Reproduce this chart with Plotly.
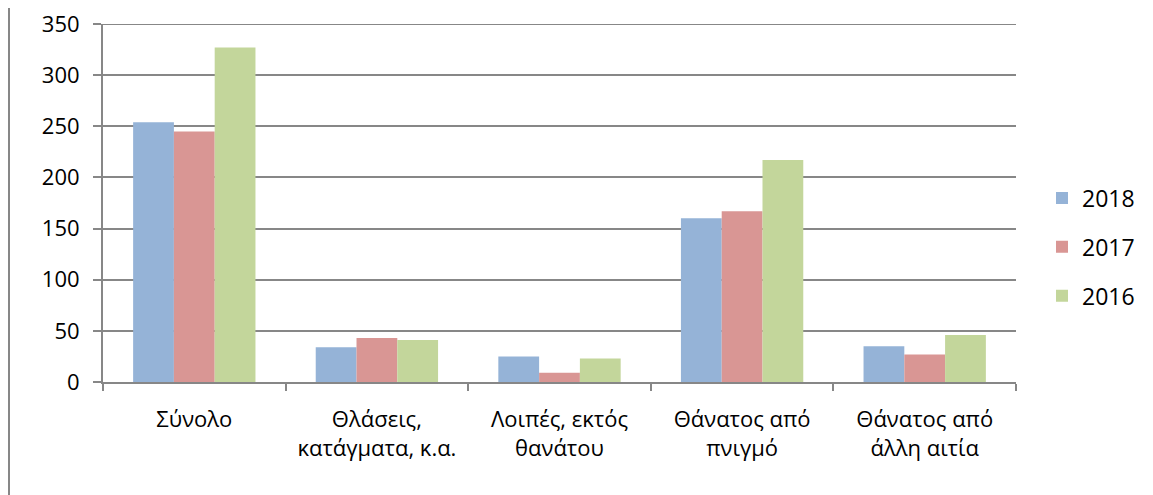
import plotly.graph_objects as go

categories = ["Σύνολο", "Θλάσεις,<br>κατάγματα, κ.α.", "Λοιπές, εκτός<br>θανάτου",
              "Θάνατος από<br>πνιγμό", "Θάνατος από<br>άλλη αιτία"]
series_names = ["2018", "2017", "2016"]
values_2018 = [254, 34, 25, 160, 35]
values_2017 = [245, 43, 9, 167, 27]
values_2016 = [327, 41, 23, 217, 46]
colors = ["#95b3d7", "#d99694", "#c3d69b"]
y_ticks = [0, 50, 100, 150, 200, 250, 300, 350]

FONT = "Open Sans"
GRID = "#878787"
fig = go.Figure()
for name, vals, col in zip(series_names, [values_2018, values_2017, values_2016], colors):
    fig.add_trace(go.Bar(name=name, x=categories, y=vals, marker_color=col,
                         marker_line_width=0, legendgroup=name))

# page body has an 8px margin; size the figure to fill the rest of the window
W, H = 1145, 487
L, R, T, B = 95, 137, 16, 113
PW, PH = W - L - R, H - T - B
fig.update_layout(
    width=W, height=H,
    margin=dict(l=L, r=R, t=T, b=B, autoexpand=False),
    paper_bgcolor="white", plot_bgcolor="white",
    barmode="group", bargap=0.33, bargroupgap=0,
    font=dict(family=FONT, size=22, color="black"),
    showlegend=True,
    legend=dict(x=(1034 - L) / PW, y=(374 - 239) / PH, xanchor="left", yanchor="middle",
                font=dict(size=23), tracegroupgap=16, itemwidth=30),
    xaxis=dict(showline=True, linecolor=GRID, linewidth=2,
               ticks="outside", tickson="boundaries", ticklen=7, tickwidth=2,
               tickcolor=GRID, ticklabelstandoff=17, showgrid=False,
               tickfont=dict(size=22), automargin=False),
    yaxis=dict(range=[0, 350], tickvals=y_ticks, showline=True, linecolor=GRID,
               linewidth=2, showgrid=True, gridcolor=GRID, gridwidth=2,
               ticks="outside", ticklen=8, tickwidth=2, tickcolor=GRID,
               zeroline=False, ticklabelstandoff=9, tickfont=dict(size=22),
               ticklabeloverflow="allow", automargin=False),
)
fig.add_shape(type="line", xref="paper", yref="y", x0=0, x1=1, y0=350, y1=350,
              line=dict(color=GRID, width=2), layer="below")
fig.add_shape(type="line", xref="paper", yref="paper",
              x0=(1 - L) / PW, x1=(1 - L) / PW,
              y0=-B / PH - 0.05, y1=1 + T / PH + 0.05,
              line=dict(color=GRID, width=2))
fig.write_html("out.html")
